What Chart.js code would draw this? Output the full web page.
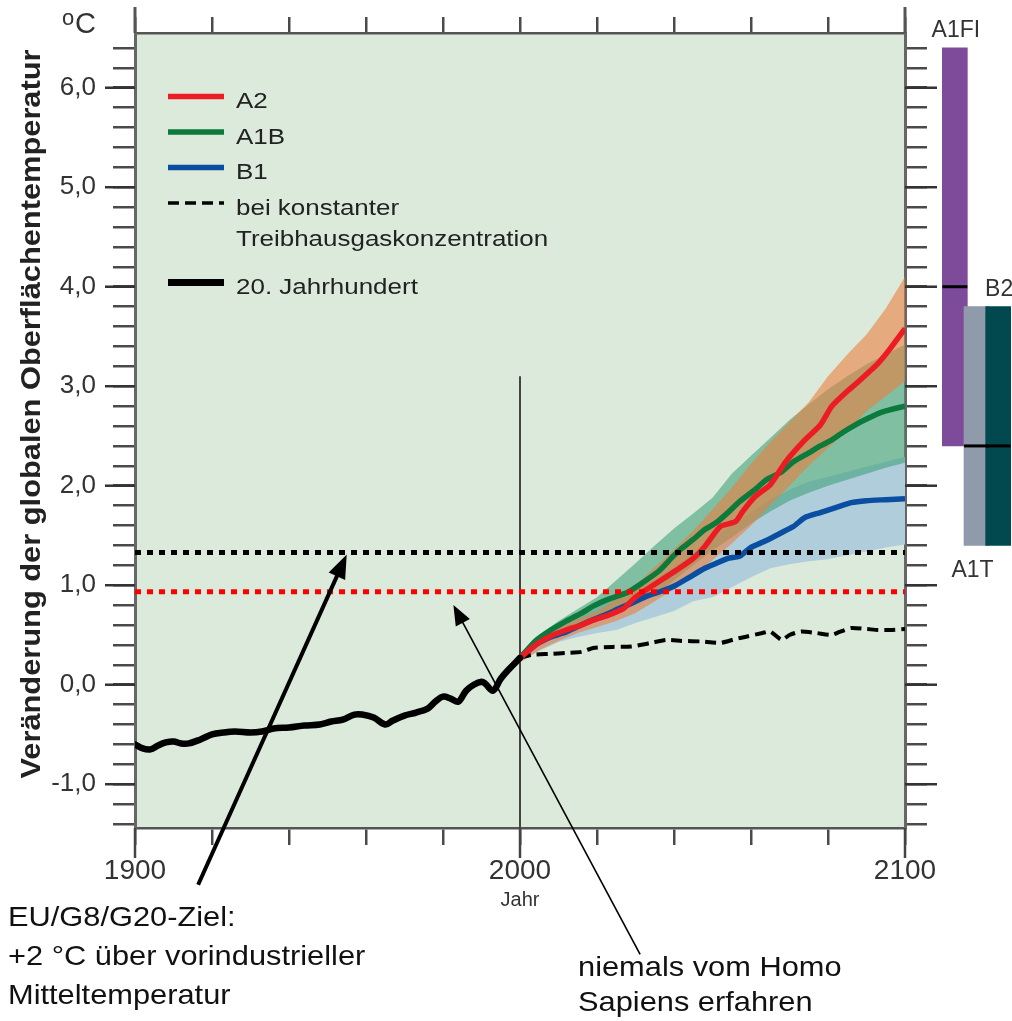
<!DOCTYPE html>
<html lang="de">
<head>
<meta charset="utf-8">
<title>Veränderung der globalen Oberflächentemperatur</title>
<script src="https://cdn.jsdelivr.net/npm/chart.js@4.4.1/dist/chart.umd.min.js"></script>
<style>
  html, body { margin: 0; padding: 0; background: #fff; }
  #wrap { position: relative; width: 1012px; height: 1021px; overflow: hidden; }
  #mainChart { position: absolute; left: 0; top: 0; }
  #rangeChart { position: absolute; left: 930px; top: 0; }
</style>
</head>
<body>
<div id="wrap">
  <canvas id="mainChart" width="1012" height="1021"></canvas>
  <canvas id="rangeChart" width="82" height="1021"></canvas>
</div>
<script>
// --- Daten ---
const years20 = [1900, 1902, 1904, 1906, 1908, 1910, 1912, 1914, 1917, 1920, 1923, 1926, 1930, 1933, 1936, 1940, 1944, 1948, 1951, 1954, 1957, 1959, 1962, 1965, 1967, 1970, 1973, 1976, 1978, 1980, 1982, 1984, 1986, 1988, 1990, 1991, 1993, 1995, 1997, 2000];
const temp20 = [-0.60, -0.64, -0.65, -0.61, -0.58, -0.57, -0.59, -0.59, -0.55, -0.50, -0.48, -0.47, -0.48, -0.47, -0.44, -0.43, -0.41, -0.40, -0.37, -0.35, -0.30, -0.30, -0.33, -0.40, -0.36, -0.31, -0.28, -0.24, -0.17, -0.12, -0.14, -0.17, -0.06, 0.00, 0.03, 0.01, -0.06, 0.06, 0.15, 0.27];

const yearsA2 = [2000, 2004, 2008, 2012, 2016, 2019, 2023, 2027, 2030, 2033, 2037, 2041, 2045, 2048, 2052, 2056, 2058, 2061, 2065, 2069, 2074, 2078, 2081, 2085, 2088, 2093, 2096, 2100];
const tempA2 = [0.27, 0.40, 0.49, 0.55, 0.60, 0.65, 0.70, 0.77, 0.88, 0.96, 1.06, 1.16, 1.27, 1.39, 1.59, 1.64, 1.75, 1.89, 2.01, 2.24, 2.46, 2.61, 2.80, 2.95, 3.05, 3.23, 3.37, 3.58];

const yearsA1B = [2000, 2004, 2008, 2012, 2016, 2019, 2023, 2028, 2032, 2036, 2040, 2042, 2045, 2048, 2051, 2054, 2057, 2061, 2064, 2068, 2071, 2075, 2078, 2081, 2084, 2087, 2090, 2094, 2100];
const tempA1B = [0.27, 0.44, 0.55, 0.64, 0.72, 0.79, 0.86, 0.93, 1.03, 1.14, 1.30, 1.37, 1.46, 1.56, 1.63, 1.73, 1.84, 1.96, 2.06, 2.14, 2.24, 2.33, 2.40, 2.46, 2.54, 2.61, 2.67, 2.74, 2.80];

const yearsB1 = [2000, 2004, 2008, 2012, 2017, 2022, 2026, 2029, 2033, 2036, 2040, 2044, 2048, 2051, 2054, 2057, 2060, 2064, 2068, 2071, 2074, 2078, 2082, 2086, 2090, 2095, 2100];
const tempB1 = [0.27, 0.40, 0.48, 0.53, 0.62, 0.70, 0.77, 0.82, 0.89, 0.93, 0.99, 1.08, 1.17, 1.22, 1.27, 1.29, 1.38, 1.45, 1.53, 1.59, 1.68, 1.73, 1.78, 1.83, 1.85, 1.86, 1.87];

const yearsConst = [2000, 2003, 2008, 2012, 2016, 2019, 2024, 2029, 2034, 2038, 2042, 2047, 2052, 2056, 2059, 2063, 2065, 2068, 2070, 2073, 2077, 2081, 2083, 2086, 2090, 2093, 2096, 2100];
const tempConst = [0.27, 0.30, 0.31, 0.32, 0.33, 0.37, 0.38, 0.385, 0.42, 0.45, 0.44, 0.435, 0.42, 0.46, 0.485, 0.52, 0.535, 0.45, 0.50, 0.535, 0.52, 0.50, 0.53, 0.57, 0.56, 0.55, 0.55, 0.56];

// Unsicherheitsbereiche (±1 Standardabweichung)
const bandYears = [2000, 2005, 2010, 2015, 2020, 2025, 2030, 2035, 2040, 2045, 2050, 2055, 2060, 2065, 2070, 2075, 2080, 2085, 2090, 2095, 2100];
const a2Low   = [0.22, 0.35, 0.44, 0.52, 0.58, 0.64, 0.72, 0.84, 0.96, 1.10, 1.25, 1.42, 1.60, 1.80, 2.00, 2.20, 2.38, 2.55, 2.75, 2.90, 3.05];
const a2High  = [0.30, 0.46, 0.57, 0.66, 0.74, 0.86, 1.00, 1.18, 1.36, 1.55, 1.76, 1.98, 2.22, 2.44, 2.64, 2.84, 3.10, 3.32, 3.52, 3.78, 4.10];
const a1bLow  = [0.25, 0.40, 0.50, 0.58, 0.66, 0.72, 0.80, 0.90, 1.05, 1.20, 1.35, 1.48, 1.62, 1.74, 1.85, 1.93, 2.00, 2.06, 2.12, 2.18, 2.23];
const a1bHigh = [0.30, 0.50, 0.64, 0.76, 0.88, 1.05, 1.22, 1.40, 1.57, 1.72, 1.88, 2.12, 2.30, 2.48, 2.66, 2.82, 2.97, 3.10, 3.22, 3.32, 3.42];
const b1Low   = [0.24, 0.34, 0.43, 0.48, 0.52, 0.55, 0.62, 0.68, 0.74, 0.84, 0.88, 0.98, 1.08, 1.17, 1.21, 1.24, 1.26, 1.30, 1.34, 1.38, 1.41];
const b1High  = [0.29, 0.45, 0.57, 0.68, 0.78, 0.87, 0.96, 1.06, 1.18, 1.32, 1.47, 1.60, 1.73, 1.86, 1.96, 2.04, 2.09, 2.14, 2.19, 2.24, 2.29];

// Referenzlinien: +2 °C-Ziel und "niemals erfahren"
const refLevels = [1.33, 0.935];
const markerYear = 2000, markerTop = 3.1;

// Balken rechts: wahrscheinliche Bereiche bis 2100
const rangeNames = ['A1FI', 'A1T', 'B2'];
const rangeLow  = [2.4, 1.4, 1.4];
const rangeHigh = [6.4, 3.8, 3.8];
const rangeBest = [4.0, 2.4, 2.4];

// Achsen
const xLabelYears = [1900, 2000, 2100];
const yLabelValues = [-1, 0, 1, 2, 3, 4, 5, 6];
const Y_MIN = -1.44, Y_MAX = 6.55;

// --- Stil ---
const FONT = "'Liberation Sans', Arial, Helvetica, sans-serif";
const PLOT_BG = '#dceadb';
const TICK_COLOR = '#4a4a4a';
const C_A2 = '#ec1c24', C_A1B = '#0b7a3c', C_B1 = '#0a4ea2';

const pts = (xs, ys) => xs.map((x, i) => ({ x: x, y: ys[i] }));
const isMajor = v => Math.abs(v - Math.round(v)) < 1e-6;

function drawText(ctx, text, x, y, size, o) {
  o = o || {};
  ctx.save();
  ctx.font = (o.weight || 'normal') + ' ' + size + 'px ' + FONT;
  ctx.fillStyle = o.color || '#222';
  ctx.textAlign = o.align || 'left';
  ctx.textBaseline = o.baseline || 'alphabetic';
  ctx.translate(x, y);
  if (o.rotate) ctx.rotate(o.rotate);
  ctx.scale(o.sx || 1, 1);
  ctx.fillText(text, 0, 0);
  ctx.restore();
}

function line(ctx, x1, y1, x2, y2, w, color) {
  ctx.save();
  ctx.strokeStyle = color;
  ctx.lineWidth = w;
  ctx.beginPath();
  ctx.moveTo(x1, y1);
  ctx.lineTo(x2, y2);
  ctx.stroke();
  ctx.restore();
}

function arrow(ctx, x1, y1, x2, y2, w, head, halfW) {
  const dx = x2 - x1, dy = y2 - y1, len = Math.hypot(dx, dy);
  const ux = dx / len, uy = dy / len;
  const bx = x2 - ux * head, by = y2 - uy * head;
  line(ctx, x1, y1, bx + ux * 2, by + uy * 2, w, '#000');
  ctx.save();
  ctx.fillStyle = '#000';
  ctx.beginPath();
  ctx.moveTo(x2, y2);
  ctx.lineTo(bx - uy * halfW, by + ux * halfW);
  ctx.lineTo(bx + uy * halfW, by - ux * halfW);
  ctx.closePath();
  ctx.fill();
  ctx.restore();
}

// Legende
const legendItems = [
  { label: 'A2', text: ['A2'] },
  { label: 'A1B', text: ['A1B'] },
  { label: 'B1', text: ['B1'] },
  { label: 'konstant', text: ['bei konstanter', 'Treibhausgaskonzentration'] },
  { label: '20. Jahrhundert', text: ['20. Jahrhundert'] }
];

// Anmerkungen
const arrows = [
  { from: [1916.4, -2.01], to: [1955.0, 1.31], width: 4, head: 24, halfW: 9 },
  { from: [2031.2, -2.71], to: [1982.7, 0.80], width: 1.6, head: 20, halfW: 8 }
];
const notes = [
  { lines: ['EU/G8/G20-Ziel:', '+2 °C über vorindustrieller', 'Mitteltemperatur'], x: 8, y: 926, gap: 39 },
  { lines: ['niemals vom Homo', 'Sapiens erfahren'], x: 578, y: 976, gap: 35 }
];

const decorPlugin = {
  id: 'decor',
  beforeDraw(chart) {
    const { ctx, chartArea: a } = chart;
    ctx.save();
    ctx.fillStyle = PLOT_BG;
    ctx.fillRect(a.left, a.top, a.right - a.left, a.bottom - a.top);
    ctx.restore();
  },
  beforeDatasetsDraw(chart) {
    const { ctx, chartArea: a, scales } = chart;
    const x = scales.x.getPixelForValue(markerYear);
    line(ctx, x, scales.y.getPixelForValue(markerTop), x, a.bottom, 2, '#444');
  },
  afterDraw(chart) {
    const { ctx, chartArea: a, scales } = chart;
    const sx = scales.x, sy = scales.y;

    // lange Hauptstriche
    yLabelValues.forEach(v => {
      const y = sy.getPixelForValue(v);
      line(ctx, a.left - 30, y, a.left, y, 2.5, '#333');
      line(ctx, a.right, y, a.right + 32, y, 2.5, '#333');
    });
    xLabelYears.forEach(v => {
      const x = sx.getPixelForValue(v);
      line(ctx, x, a.bottom, x, a.bottom + 30, 2.5, '#444');
      if (v !== markerYear) line(ctx, x, a.top, x, a.top - 26, 3, '#555');
    });

    // Achsentitel und Einheit
    drawText(ctx, 'Veränderung der globalen Oberflächentemperatur', 40, 414, 28,
      { weight: 'bold', align: 'center', rotate: -Math.PI / 2, sx: 1.1 });
    drawText(ctx, 'o', 62, 25, 22, { color: '#333' });
    drawText(ctx, 'C', 75, 33, 29, { color: '#333' });
    drawText(ctx, 'Jahr', sx.getPixelForValue(markerYear), 906, 20, { align: 'center', color: '#333' });

    // Legende
    let y = 108;
    legendItems.forEach((item, i) => {
      const ds = chart.data.datasets.find(d => d.label === item.label);
      ctx.save();
      ctx.strokeStyle = ds.borderColor;
      ctx.lineWidth = ds.legendWidth || ds.borderWidth;
      ctx.setLineDash(ds.borderDash || []);
      ctx.beginPath();
      ctx.moveTo(168, y - 11.5);
      ctx.lineTo(224, y - 11.5);
      ctx.stroke();
      ctx.restore();
      item.text.forEach((t, k) => drawText(ctx, t, 236, y + k * 31, 22, { sx: 1.18, color: '#222' }));
      y += 35.5 + (item.text.length - 1) * 31 + (item.text.length > 1 ? 13 : 0);
    });

    // Pfeile und Anmerkungen
    arrows.forEach(ar => {
      arrow(ctx, sx.getPixelForValue(ar.from[0]), sy.getPixelForValue(ar.from[1]),
        sx.getPixelForValue(ar.to[0]), sy.getPixelForValue(ar.to[1]), ar.width, ar.head, ar.halfW);
    });
    notes.forEach(n => {
      n.lines.forEach((t, k) => drawText(ctx, t, n.x, n.y + k * n.gap, 28, { sx: 1.1, color: '#111' }));
    });
  }
};

const bandBase = { borderColor: 'rgba(0,0,0,0)', borderWidth: 0, pointRadius: 0 };

new Chart(document.getElementById('mainChart'), {
  type: 'line',
  data: {
    datasets: [
      Object.assign({ label: 'B1 min', data: pts(bandYears, b1Low), fill: false, order: 30 }, bandBase),
      Object.assign({ label: 'B1 max', data: pts(bandYears, b1High), fill: '-1', backgroundColor: '#b0cddb', order: 29 }, bandBase),
      Object.assign({ label: 'A1B min', data: pts(bandYears, a1bLow), fill: false, order: 28 }, bandBase),
      Object.assign({ label: 'A1B max', data: pts(bandYears, a1bHigh), fill: '-1', backgroundColor: 'rgba(67,161,124,0.6)', order: 27 }, bandBase),
      Object.assign({ label: 'A2 min', data: pts(bandYears, a2Low), fill: false, order: 26 }, bandBase),
      Object.assign({ label: 'A2 max', data: pts(bandYears, a2High), fill: '-1', backgroundColor: 'rgba(236,124,58,0.58)', order: 25 }, bandBase),
      { label: 'konstant', data: pts(yearsConst, tempConst), borderColor: '#000', borderWidth: 4, legendWidth: 3.5, borderDash: [11, 6], tension: 0.2, order: 10 },
      { label: 'B1', data: pts(yearsB1, tempB1), borderColor: C_B1, borderWidth: 5.5, tension: 0.2, order: 9 },
      { label: 'A1B', data: pts(yearsA1B, tempA1B), borderColor: C_A1B, borderWidth: 5.5, tension: 0.2, order: 8 },
      { label: 'A2', data: pts(yearsA2, tempA2), borderColor: C_A2, borderWidth: 5.5, tension: 0.2, order: 7 },
      { label: '20. Jahrhundert', data: pts(years20, temp20), borderColor: '#000', borderWidth: 6.5, legendWidth: 7, tension: 0.35, borderCapStyle: 'round', order: 6 },
      { label: 'Ziel', data: pts([1900, 2100], [refLevels[0], refLevels[0]]), borderColor: '#000', borderWidth: 5, borderDash: [6, 6], order: 2 },
      { label: 'niemals', data: pts([1900, 2100], [refLevels[1], refLevels[1]]), borderColor: '#ff0000', borderWidth: 5, borderDash: [6, 6], order: 1 }
    ]
  },
  options: {
    responsive: false,
    devicePixelRatio: 1,
    animation: false,
    layout: { padding: 0 },
    elements: { point: { radius: 0 }, line: { borderJoinStyle: 'round' } },
    plugins: { legend: { display: false }, tooltip: { enabled: false } },
    scales: {
      x: {
        type: 'linear', position: 'bottom', min: 1900, max: 2100,
        afterFit(s) { s.height = 193; },
        border: { color: '#555', width: 2.5 },
        grid: { drawOnChartArea: false, tickLength: 17, color: TICK_COLOR, lineWidth: 2.5 },
        ticks: {
          stepSize: 20, autoSkip: false, maxRotation: 0, padding: 9, color: '#333',
          font: { family: FONT, size: 28 },
          callback: v => xLabelYears.includes(v) ? String(v) : ''
        }
      },
      xTop: {
        type: 'linear', position: 'top', min: 1900, max: 2100,
        afterFit(s) { s.height = 33; },
        border: { color: '#555', width: 2.5 },
        grid: { drawOnChartArea: false, tickLength: 16, color: TICK_COLOR, lineWidth: 2.5 },
        ticks: { stepSize: 20, display: false, autoSkip: false }
      },
      y: {
        type: 'linear', position: 'left', min: Y_MIN, max: Y_MAX,
        afterFit(s) { s.width = 135; },
        border: { color: '#666', width: 3 },
        grid: { drawOnChartArea: false, tickLength: 22, color: TICK_COLOR, lineWidth: 2.5 },
        ticks: {
          stepSize: 0.2, includeBounds: false, autoSkip: false, padding: 17, color: '#333',
          font: { family: FONT, size: 26 },
          callback: v => isMajor(v) ? v.toFixed(1).replace('.', ',') : ''
        }
      },
      yRight: {
        type: 'linear', position: 'right', min: Y_MIN, max: Y_MAX,
        afterFit(s) { s.width = 107; },
        border: { color: '#666', width: 3 },
        grid: { drawOnChartArea: false, tickLength: 22, color: TICK_COLOR, lineWidth: 2.5 },
        ticks: { stepSize: 0.2, includeBounds: false, autoSkip: false, display: false }
      }
    }
  },
  plugins: [decorPlugin]
});

// --- Balken rechts ---
const rangeColors = ['#7e4b9b', '#8f9aab', '#02494f'];
const rangeLabelSide = ['top', 'bottom', 'top'];

const rangePlugin = {
  id: 'rangeMarks',
  afterDatasetsDraw(chart) {
    const { ctx, scales } = chart;
    const meta = chart.getDatasetMeta(0);
    meta.data.forEach((bar, i) => {
      const y = scales.y.getPixelForValue(rangeBest[i]);
      line(ctx, bar.x - bar.width / 2, y, bar.x + bar.width / 2, y, 3, '#000');
    });
    meta.data.forEach((bar, i) => {
      const top = scales.y.getPixelForValue(rangeHigh[i]);
      const bottom = scales.y.getPixelForValue(rangeLow[i]);
      if (rangeLabelSide[i] === 'top') {
        drawText(ctx, rangeNames[i], bar.x + 1, top - 11, 23, { align: 'center', color: '#333' });
      } else {
        drawText(ctx, rangeNames[i], bar.x - 4, bottom + 32, 23, { align: 'center', color: '#333' });
      }
    });
  }
};

new Chart(document.getElementById('rangeChart'), {
  type: 'bar',
  data: {
    labels: rangeNames,
    datasets: [{
      data: rangeNames.map((n, i) => [rangeLow[i], rangeHigh[i]]),
      backgroundColor: rangeColors,
      borderWidth: 0,
      barThickness: 25,
      clip: false
    }]
  },
  options: {
    responsive: false,
    devicePixelRatio: 1,
    animation: false,
    layout: { padding: { top: 33, bottom: 193, left: 14, right: 3 } },
    plugins: { legend: { display: false }, tooltip: { enabled: false } },
    scales: {
      x: { display: false },
      y: { display: false, min: Y_MIN, max: Y_MAX }
    }
  },
  plugins: [rangePlugin]
});
</script>
</body>
</html>
